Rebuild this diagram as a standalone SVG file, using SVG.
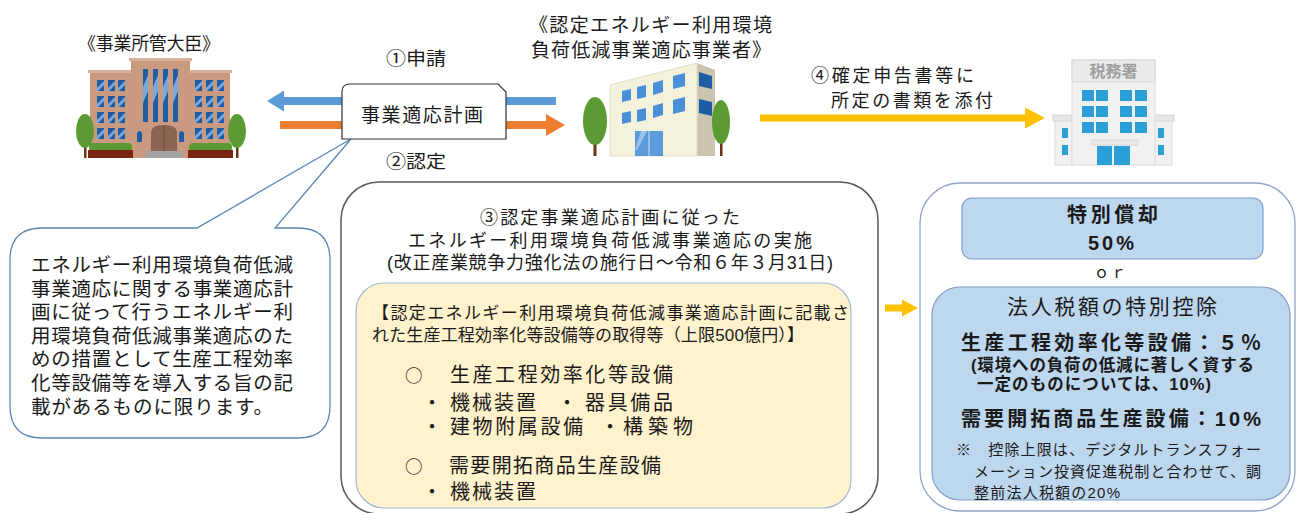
<svg xmlns="http://www.w3.org/2000/svg" width="1296" height="513" viewBox="0 0 1296 513">
<style>
  text { font-family: "Liberation Sans", "Noto Sans CJK JP", sans-serif; fill: #1a1a1a; }
  .b { font-weight: 700; }
  .lbl18 { font-size: 18px; }
  .lbl19 { font-size: 19px; }
  .bubble-t { font-size: 19.5px; }
  .hdr { font-size: 18px; }
  .ybox-t { font-size: 17px; }
  .item { font-size: 20px; }
  .bullet { font-family: "Noto Sans CJK JP", sans-serif; font-size: 17.5px; }
  .panel { fill: #bdd7ee; stroke: #7f9fcb; stroke-width: 1.2; }
  .tree { fill: #5c9a34; }
  .trunk { fill: #6b3518; }
  .gov { fill: #c99a80; }
  .cornice { fill: #d8b19b; }
  .ofc-win { fill: #2a9fd8; }
  .ofc-wall { fill: #f1f1f1; stroke: #dedede; stroke-width: 1; }
  .co-win { fill: #4a90d9; }
</style>
<defs>
  <marker id="head-blue" viewBox="0 0 10 10" refX="0" refY="5" markerWidth="17" markerHeight="21" markerUnits="userSpaceOnUse" orient="auto" preserveAspectRatio="none">
    <path d="M0,0 L10,5 L0,10 Z" fill="#5b9bd5"/>
  </marker>
  <marker id="head-orange" viewBox="0 0 10 10" refX="0" refY="5" markerWidth="19" markerHeight="22" markerUnits="userSpaceOnUse" orient="auto" preserveAspectRatio="none">
    <path d="M0,0 L10,5 L0,10 Z" fill="#ed7d31"/>
  </marker>
  <marker id="head-yellow" viewBox="0 0 10 10" refX="0" refY="5" markerWidth="20" markerHeight="21" markerUnits="userSpaceOnUse" orient="auto" preserveAspectRatio="none">
    <path d="M0,0 L10,5 L0,10 Z" fill="#ffc000"/>
  </marker>
  <marker id="head-yellow-s" viewBox="0 0 10 10" refX="0" refY="5" markerWidth="16" markerHeight="17" markerUnits="userSpaceOnUse" orient="auto" preserveAspectRatio="none">
    <path d="M0,0 L10,5 L0,10 Z" fill="#ffc000"/>
  </marker>
  <!-- government building window pane -->
  <g id="gw">
    <rect width="7" height="11" fill="#1f5ca6"/>
    <path d="M7,1 L7,5 L1,11 L0,11 L0,8 Z" fill="#7aa8dc"/>
  </g>
  <!-- tall centre window -->
  <g id="gt">
    <rect width="5" height="53" fill="#1f5ca6"/>
    <path d="M5,6 L5,22 L0,34 L0,18 Z" fill="#7aa8dc"/>
  </g>
  <!-- office window pane -->
  <g id="ow">
    <rect width="12" height="11" class="ofc-win"/>
  </g>
</defs>

<rect width="1296" height="513" fill="#ffffff"/>

<!-- connectors -->
<g id="connectors">
  <line x1="556" y1="101" x2="284" y2="101" stroke="#5b9bd5" stroke-width="8" marker-end="url(#head-blue)"/>
  <line x1="280" y1="125" x2="546" y2="125" stroke="#ed7d31" stroke-width="8" marker-end="url(#head-orange)"/>
  <line x1="760" y1="118" x2="1025" y2="118" stroke="#ffc000" stroke-width="7" marker-end="url(#head-yellow)"/>
  <line x1="885" y1="308" x2="902" y2="308" stroke="#ffc000" stroke-width="7" marker-end="url(#head-yellow-s)"/>
  <text x="386" y="65" class="lbl18" textLength="60" lengthAdjust="spacingAndGlyphs">①申請</text>
  <text x="386" y="168" class="lbl18" textLength="60" lengthAdjust="spacingAndGlyphs">②認定</text>
  <text class="lbl18"><tspan x="811" y="82" textLength="163">④確定申告書等に</tspan><tspan x="831" y="107" textLength="162">所定の書類を添付</tspan></text>
</g>

<!-- competent minister -->
<g id="minister">
  <text x="78" y="50" class="lbl18" textLength="142">《事業所管大臣》</text>
  <rect x="90" y="72" width="140" height="86" class="gov"/>
  <rect x="88" y="70" width="144" height="3" class="cornice"/>
  <rect x="131" y="60" width="59" height="98" class="gov"/>
  <rect x="129" y="58" width="63" height="3" class="cornice"/>
  <use href="#gw" x="97" y="80"/><use href="#gw" x="108" y="80"/><use href="#gw" x="118" y="80"/>
  <use href="#gw" x="97" y="96"/><use href="#gw" x="108" y="96"/><use href="#gw" x="118" y="96"/>
  <use href="#gw" x="97" y="112"/><use href="#gw" x="108" y="112"/><use href="#gw" x="118" y="112"/>
  <use href="#gw" x="97" y="128"/><use href="#gw" x="108" y="128"/><use href="#gw" x="118" y="128"/>
  <use href="#gw" x="195" y="80"/><use href="#gw" x="206" y="80"/><use href="#gw" x="217" y="80"/>
  <use href="#gw" x="195" y="96"/><use href="#gw" x="206" y="96"/><use href="#gw" x="217" y="96"/>
  <use href="#gw" x="195" y="112"/><use href="#gw" x="206" y="112"/><use href="#gw" x="217" y="112"/>
  <use href="#gw" x="195" y="128"/><use href="#gw" x="206" y="128"/><use href="#gw" x="217" y="128"/>
  <use href="#gt" x="143" y="69"/><use href="#gt" x="153" y="69"/><use href="#gt" x="163" y="69"/><use href="#gt" x="173" y="69"/>
  <path d="M137,142 L137,133 Q139.5,129 142,133 L142,142 Z" fill="#1f5ca6"/>
  <path d="M179,142 L179,133 Q181.5,129 184,133 L184,142 Z" fill="#1f5ca6"/>
  <path d="M151,152 L151,133 Q151,125 164,125 Q177,125 177,133 L177,152 Z" fill="#8c6452"/>
  <line x1="164" y1="125" x2="164" y2="152" stroke="#6e4a3b" stroke-width="1"/>
  <rect x="146" y="151" width="36" height="7" fill="#a3a3a3"/>
  <rect x="89" y="143" width="43" height="9" rx="4" class="tree"/>
  <rect x="88" y="150" width="45" height="8" fill="#7a2410"/>
  <rect x="189" y="143" width="43" height="9" rx="4" class="tree"/>
  <rect x="188" y="150" width="45" height="8" fill="#7a2410"/>
  <rect x="84" y="140" width="2.5" height="18" class="trunk"/>
  <ellipse cx="85" cy="131" rx="9" ry="17" class="tree"/>
  <rect x="236" y="140" width="2.5" height="18" class="trunk"/>
  <ellipse cx="237" cy="131" rx="9" ry="17" class="tree"/>
</g>

<!-- certified business operator -->
<g id="operator">
  <text class="lbl19"><tspan x="529" y="32" textLength="243">《認定エネルギー利用環境</tspan><tspan x="531" y="57" textLength="240">負荷低減事業適応事業者》</tspan></text>
  <polygon points="697,63 715,70 715,156 697,156" fill="#c9c5ae"/>
  <polygon points="610,85 697,63 697,156 610,156" fill="#f4f1dc" stroke="#e3dfc6" stroke-width="1"/>
  <polygon points="622,91 631,89 631,100 622,102" class="co-win"/>
  <polygon points="637,87 646,85 646,97 637,99" class="co-win"/>
  <polygon points="653,83 663,80 663,92 653,95" class="co-win"/>
  <polygon points="673,76 685,73 685,86 673,89" class="co-win"/>
  <polygon points="622,113 631,111 631,122 622,124" class="co-win"/>
  <polygon points="637,110 646,108 646,120 637,122" class="co-win"/>
  <polygon points="653,106 663,103 663,115 653,118" class="co-win"/>
  <polygon points="673,100 685,97 685,111 673,114" class="co-win"/>
  <polygon points="699,72 712,76 712,89 699,86" fill="#1f5ca6"/>
  <polygon points="699,99 712,102 712,116 699,113" fill="#1f5ca6"/>
  <rect x="635" y="131" width="28" height="25" fill="#5b9bd9"/>
  <line x1="649" y1="131" x2="649" y2="156" stroke="#cfe0f2" stroke-width="1"/>
  <path d="M641,131 L647,131 L637,150 L635,150 Z" fill="#9cc3ec"/>
  <rect x="593.5" y="138" width="3" height="18" class="trunk"/>
  <ellipse cx="595" cy="121" rx="12" ry="24" class="tree"/>
  <rect x="720" y="138" width="2.5" height="18" class="trunk"/>
  <ellipse cx="721" cy="122" rx="9" ry="22" class="tree"/>
</g>

<!-- tax office -->
<g id="tax-office">
  <rect x="1055" y="120" width="17" height="45" class="ofc-wall"/>
  <rect x="1155" y="120" width="17" height="45" class="ofc-wall"/>
  <rect x="1053" y="115" width="21" height="6" fill="#e6e6e6" stroke="#d8d8d8" stroke-width="1"/>
  <rect x="1153" y="115" width="21" height="6" fill="#e6e6e6" stroke="#d8d8d8" stroke-width="1"/>
  <rect x="1072" y="60" width="83" height="105" class="ofc-wall"/>
  <rect x="1072" y="60" width="83" height="22" fill="#ebebeb" stroke="#d6d6d6" stroke-width="1"/>
  <text x="1113.5" y="77" text-anchor="middle" class="b" style="font-size:16px;fill:#9e9e9e">税務署</text>
  <use href="#ow" x="1082" y="90"/><use href="#ow" x="1096" y="90"/>
  <use href="#ow" x="1082" y="106"/><use href="#ow" x="1096" y="106"/>
  <use href="#ow" x="1082" y="122"/><use href="#ow" x="1096" y="122"/>
  <use href="#ow" x="1120" y="90"/><use href="#ow" x="1135" y="90"/>
  <use href="#ow" x="1120" y="106"/><use href="#ow" x="1135" y="106"/>
  <use href="#ow" x="1120" y="122"/><use href="#ow" x="1135" y="122"/>
  <rect x="1062" y="128" width="6" height="10" class="ofc-win"/>
  <rect x="1062" y="145" width="6" height="10" class="ofc-win"/>
  <rect x="1158" y="128" width="6" height="10" class="ofc-win"/>
  <rect x="1158" y="145" width="6" height="10" class="ofc-win"/>
  <rect x="1092" y="140" width="46" height="5" fill="#e8e8e8" stroke="#d6d6d6" stroke-width="1"/>
  <rect x="1097" y="146" width="15" height="19" class="ofc-win"/>
  <rect x="1114" y="146" width="16" height="19" class="ofc-win"/>
</g>

<!-- explanatory callout -->
<g id="callout">
  <path d="M42,228 L197,228 L351,139 L275,228 L298,228 Q330,228 330,260 L330,406 Q330,438 298,438 L42,438 Q10,438 10,406 L10,260 Q10,228 42,228 Z" fill="#ffffff" stroke="#5b87b8" stroke-width="1.3"/>
  <text class="bubble-t">
    <tspan x="31" y="272" textLength="262">エネルギー利用環境負荷低減</tspan>
    <tspan x="31" y="296" textLength="262">事業適応に関する事業適応計</tspan>
    <tspan x="31" y="319" textLength="262">画に従って行うエネルギー利</tspan>
    <tspan x="31" y="343" textLength="262">用環境負荷低減事業適応のた</tspan>
    <tspan x="31" y="366" textLength="262">めの措置として生産工程効率</tspan>
    <tspan x="31" y="390" textLength="262">化等設備等を導入する旨の記</tspan>
    <tspan x="31" y="414" textLength="242">載があるものに限ります。</tspan>
  </text>
</g>

<!-- plan document -->
<g id="plan">
  <path d="M342,139 L342,92 Q342,84 350,84 L498,84 L506,92 L506,139 Z" fill="#ffffff" stroke="#333333" stroke-width="1.2"/>
  <text x="361" y="122" class="lbl19" textLength="122">事業適応計画</text>
</g>

<!-- implementation -->
<g id="implementation">
  <rect x="341" y="182" width="537" height="332" rx="38" fill="#ffffff" stroke="#595959" stroke-width="1.5"/>
  <text class="hdr">
    <tspan x="480" y="224" textLength="260">③認定事業適応計画に従った</tspan>
    <tspan x="408" y="247" textLength="404">エネルギー利用環境負荷低減事業適応の実施</tspan>
    <tspan x="387" y="269" textLength="446">(改正産業競争力強化法の施行日～令和６年３月31日)</tspan>
  </text>
  <rect x="356" y="283" width="495" height="225" rx="28" fill="#fff2cc" stroke="#9fb9d6" stroke-width="1.2"/>
  <text class="ybox-t">
    <tspan x="372" y="319" textLength="477">【認定エネルギー利用環境負荷低減事業適応計画に記載さ</tspan>
    <tspan x="372" y="341" textLength="432">れた生産工程効率化等設備等の取得等（上限500億円）】</tspan>
  </text>
  <text class="item">
    <tspan x="405" y="382" class="bullet">○</tspan>
    <tspan x="450" y="382" textLength="223">生産工程効率化等設備</tspan>
    <tspan x="422" y="410">・</tspan>
    <tspan x="450" y="410" textLength="86">機械装置</tspan>
    <tspan x="557" y="410">・</tspan>
    <tspan x="585" y="410" textLength="88">器具備品</tspan>
    <tspan x="422" y="434">・</tspan>
    <tspan x="450" y="434" textLength="133">建物附属設備</tspan>
    <tspan x="600" y="434">・</tspan>
    <tspan x="623" y="434" textLength="70">構築物</tspan>
    <tspan x="405" y="473" class="bullet">○</tspan>
    <tspan x="449" y="473" textLength="212">需要開拓商品生産設備</tspan>
    <tspan x="422" y="499">・</tspan>
    <tspan x="450" y="499" textLength="86">機械装置</tspan>
  </text>
</g>

<!-- tax incentives -->
<g id="incentives">
  <rect x="920" y="183" width="375" height="328" rx="40" fill="#ffffff" stroke="#8ea6c8" stroke-width="1.3"/>
  <rect x="962" y="198" width="301" height="61" rx="10" class="panel"/>
  <text style="font-size:20px" class="b">
    <tspan x="1067" y="222" textLength="91">特別償却</tspan>
    <tspan x="1088" y="250" textLength="46">50%</tspan>
  </text>
  <text x="1094" y="278" style="font-size:15px" textLength="32">ｏｒ</text>
  <rect x="932" y="287" width="358" height="213" rx="28" class="panel"/>
  <text style="font-size:20px">
    <tspan x="1007" y="314" style="font-size:21px" textLength="210">法人税額の特別控除</tspan>
    <tspan x="961" y="350" class="b" textLength="300">生産工程効率化等設備：５％</tspan>
    <tspan x="971" y="371" class="b" style="font-size:16.5px" textLength="283">(環境への負荷の低減に著しく資する</tspan>
    <tspan x="977" y="390" class="b" style="font-size:16.5px" textLength="234">一定のものについては、10%)</tspan>
    <tspan x="961" y="426" class="b" textLength="300">需要開拓商品生産設備：10%</tspan>
  </text>
  <text style="font-size:15px">
    <tspan x="956" y="455" textLength="305">※　控除上限は、デジタルトランスフォー</tspan>
    <tspan x="974" y="477" textLength="287">メーション投資促進税制と合わせて、調</tspan>
    <tspan x="974" y="498" textLength="146">整前法人税額の20%</tspan>
  </text>
</g>
</svg>
